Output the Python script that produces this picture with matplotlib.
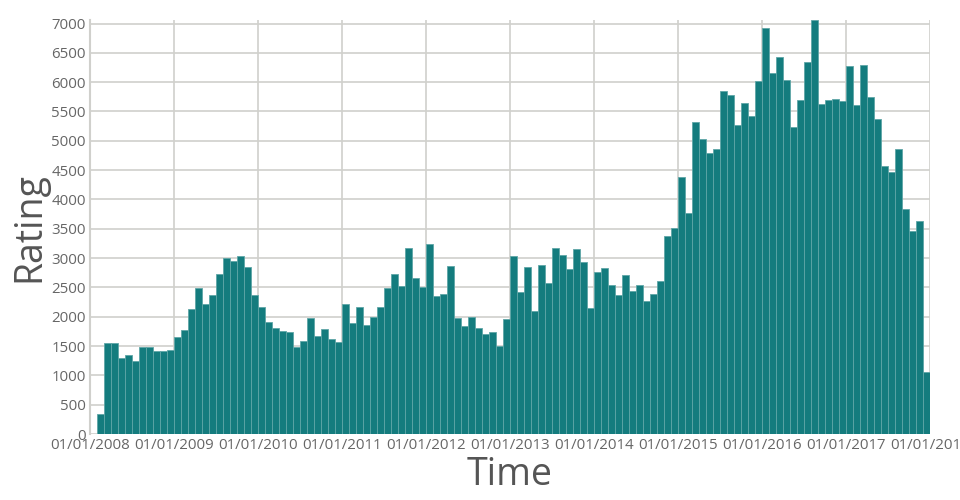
import matplotlib
matplotlib.use('Agg')
import matplotlib.pyplot as plt
import numpy as np

plt.rcParams['font.family'] = ['Open Sans', 'DejaVu Sans']

# Monthly ratings, Feb 2008 .. Dec 2017
ratings = [
    340, 1555, 1550, 1288, 1339, 1242, 1486, 1486, 1413, 1413, 1435,
    1651, 1781, 2139, 2485, 2212, 2371, 2729, 3001, 2944, 3035, 2842, 2371, 2161,
    1912, 1815, 1764, 1747, 1486, 1594, 1980, 1674, 1793, 1617, 1577, 2218,
    1895, 2167, 1866, 2003, 2173, 2490, 2723, 2525, 3171, 2661, 2502, 3245,
    2354, 2394, 2871, 1974, 1844, 1991, 1804, 1713, 1742, 1498, 1963, 3041,
    2422, 2848, 2099, 2888, 2581, 3171, 3052, 2814, 3149, 2927, 2144, 2763,
    2831, 2547, 2366, 2712, 2439, 2547, 2275, 2394, 2604, 3381, 3506, 4385,
    3767, 5327, 5026, 4799, 4862, 5854, 5775, 5270, 5650, 5429, 6019, 6926,
    6150, 6422, 6031, 5242, 5690, 6337, 7060, 5622, 5696, 5713, 5673, 6280,
    5605, 6286, 5752, 5367, 4572, 4470, 4867, 3829, 3466, 3636, 1055,
]
start_month = 1  # months after 01/01/2008
years = list(range(2008, 2019))
tick_labels = ['01/01/%d' % y for y in years]

months = np.arange(start_month, start_month + len(ratings))

fig = plt.figure(figsize=(9.6, 5), dpi=100)
ax = fig.add_axes([0.09375, 0.132, 0.875, 0.828])

ax.bar(months, ratings, width=1.0, align='edge', color='#147c7e',
       edgecolor='#5ea6a7', linewidth=0.6, zorder=2)

ax.set_xlim(0, 120)
ax.set_ylim(0, 7060)
ax.set_xticks([12 * (y - 2008) for y in years])
ax.set_xticklabels(tick_labels)
ax.set_yticks(np.arange(0, 7001, 500))

ax.grid(True, color='#d0d0cc', linewidth=1.2, zorder=0)
ax.set_axisbelow(True)
for s in ['top', 'right', 'bottom']:
    ax.spines[s].set_visible(False)
ax.spines['left'].set_color('#d0d0cc')
ax.spines['left'].set_linewidth(1.5)

ax.tick_params(length=0, labelsize=10.8, colors='#666666', pad=3)
ax.set_xlabel('Time', fontsize=27, color='#555555', labelpad=2)
ax.set_ylabel('Rating', fontsize=27, color='#555555', labelpad=2)

fig.savefig('out.png', dpi=100)
